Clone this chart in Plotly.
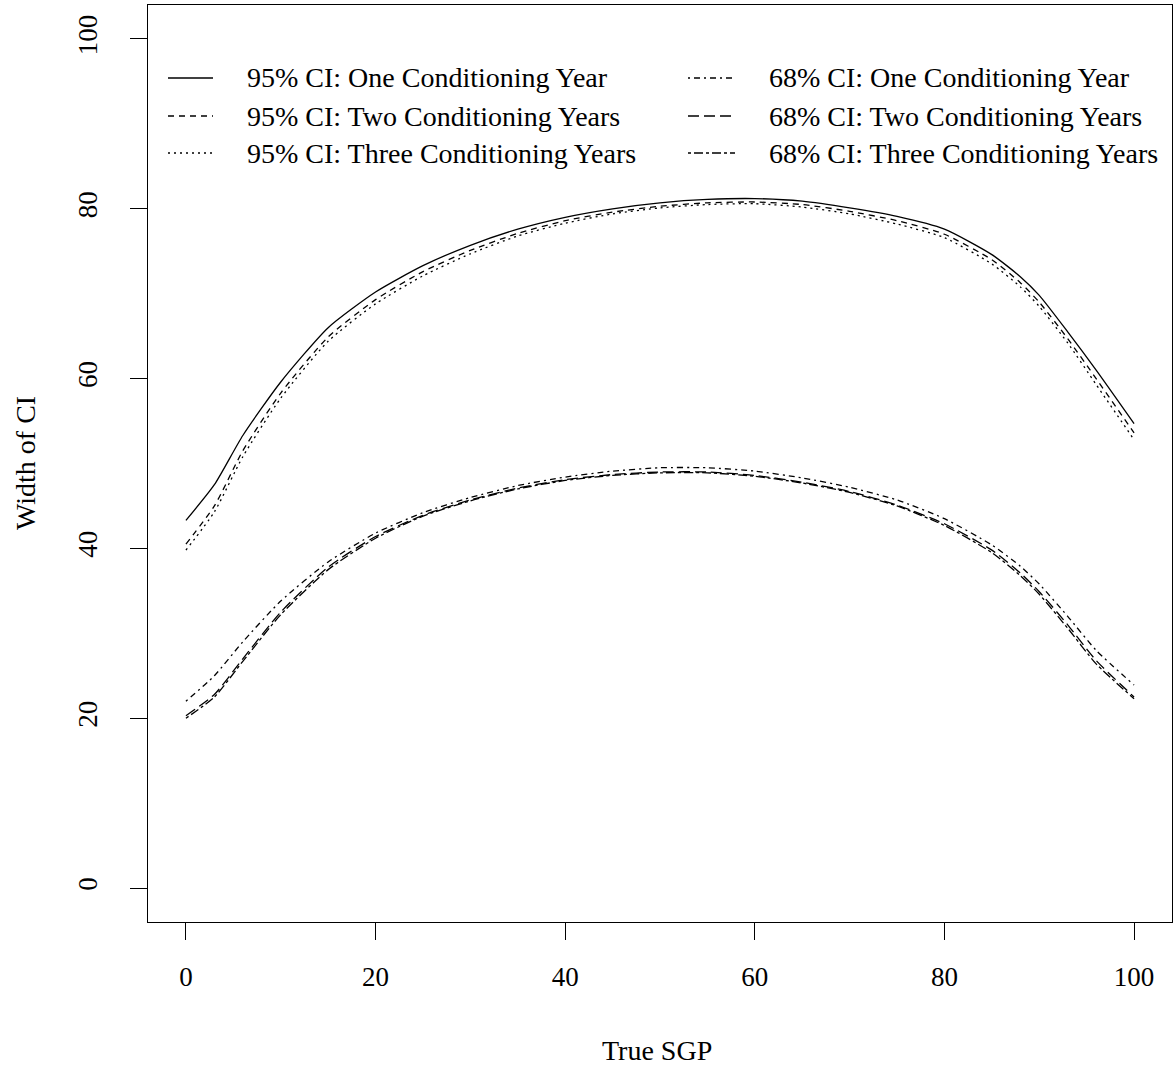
import plotly.graph_objects as go

# ---- data ----
true_sgp = [0, 3, 6, 10, 15, 20, 25, 30, 35, 40, 45, 50, 55, 60, 65, 70, 75, 80, 85, 88, 90, 93, 96, 100]

ci95_one = [43.3, 47.5, 53.3, 59.6, 66.0, 70.2, 73.3, 75.7, 77.6, 79.0, 80.0, 80.7, 81.1, 81.2, 80.9, 80.1, 79.1, 77.6, 74.6, 72.0, 69.8, 65.5, 61.0, 54.7]
ci95_two = [40.5, 45.0, 51.5, 58.3, 64.9, 69.3, 72.6, 75.1, 77.1, 78.6, 79.6, 80.3, 80.7, 80.8, 80.5, 79.7, 78.6, 77.0, 74.0, 71.3, 69.0, 64.7, 60.0, 53.6]
ci95_three = [39.8, 44.3, 50.8, 57.7, 64.4, 68.8, 72.1, 74.7, 76.8, 78.3, 79.4, 80.1, 80.5, 80.6, 80.2, 79.4, 78.2, 76.6, 73.5, 70.8, 68.5, 64.2, 59.3, 52.8]
ci68_one = [22.0, 25.0, 29.0, 33.8, 38.4, 41.8, 44.2, 46.0, 47.4, 48.4, 49.1, 49.5, 49.5, 49.1, 48.3, 47.2, 45.7, 43.5, 40.4, 37.9, 35.8, 32.0, 28.0, 23.9]
ci68_two = [20.3, 22.8, 27.0, 32.5, 37.8, 41.4, 43.9, 45.7, 47.1, 48.1, 48.7, 49.0, 49.0, 48.6, 47.8, 46.7, 45.1, 42.9, 39.8, 37.1, 34.9, 31.0, 26.8, 22.5]
ci68_three = [20.0, 22.5, 26.7, 32.2, 37.5, 41.2, 43.8, 45.6, 47.0, 48.0, 48.6, 48.9, 48.9, 48.5, 47.7, 46.6, 45.0, 42.7, 39.5, 36.8, 34.6, 30.6, 26.4, 22.3]

series_names = [
    "95% CI: One Conditioning Year",
    "95% CI: Two Conditioning Years",
    "95% CI: Three Conditioning Years",
    "68% CI: One Conditioning Year",
    "68% CI: Two Conditioning Years",
    "68% CI: Three Conditioning Years",
]
series_values = [ci95_one, ci95_two, ci95_three, ci68_one, ci68_two, ci68_three]

x_ticks = [0, 20, 40, 60, 80, 100]
y_ticks = [0, 20, 40, 60, 80, 100]

# ---- styles ----
dashes = ["solid", "6px,5px", "2px,4px", "2px,4px,6px,4px", "11px,5px", "3px,3px,9px,3px"]
FONT = "Liberation Serif"
LW = 1.3

W, H = 1173, 1070
L, R, T, B = 148, 1, 5, 148
pw, ph = W - L - R, H - T - B

fig = go.Figure()
for name, vals, d in zip(series_names, series_values, dashes):
    fig.add_trace(go.Scatter(
        x=true_sgp, y=vals, mode="lines", name=name,
        line=dict(color="black", width=LW, dash=d, shape="spline", smoothing=0.6),
        showlegend=False,
    ))

# manual two-column legend (R style)
def px_x(p):
    return (p - L) / pw

def px_y(p):
    return (H - B - p) / ph

rows_y = [78, 116, 153]
cols = [(168, 213, 245), (688, 735, 767)]
shapes = []
annotations = []
for i, (name, d) in enumerate(zip(series_names, dashes)):
    c = cols[i // 3]
    ry = rows_y[i % 3]
    shapes.append(dict(type="line", xref="paper", yref="paper",
                       x0=px_x(c[0]), x1=px_x(c[1]), y0=px_y(ry), y1=px_y(ry),
                       line=dict(color="black", width=LW, dash=d)))
    annotations.append(dict(xref="paper", yref="paper", x=px_x(c[2]), y=px_y(ry),
                            text=name, showarrow=False, xanchor="left", yanchor="middle",
                            font=dict(family=FONT, size=28, color="black")))

# axis titles
annotations.append(dict(xref="paper", yref="paper", x=px_x(657), y=px_y(1050),
                        text="True SGP", showarrow=False, xanchor="center", yanchor="middle",
                        font=dict(family=FONT, size=28, color="black")))
annotations.append(dict(xref="paper", yref="paper", x=px_x(25), y=px_y(463),
                        text="Width of CI", showarrow=False, xanchor="center", yanchor="middle",
                        textangle=-90, font=dict(family=FONT, size=28, color="black")))

fig.update_layout(
    width=W, height=H,
    margin=dict(l=L, r=R, t=T, b=B),
    paper_bgcolor="white", plot_bgcolor="white",
    font=dict(family=FONT, size=27, color="black"),
    shapes=shapes, annotations=annotations,
    showlegend=False,
)
fig.update_xaxes(range=[-4, 104], tickvals=x_ticks, ticktext=[str(v) for v in x_ticks],
                 showgrid=False, zeroline=False, showline=True, linecolor="black", linewidth=LW,
                 mirror=True, ticks="outside", ticklen=17, tickwidth=LW, tickcolor="black",
                 ticklabelstandoff=13, tickfont=dict(family=FONT, size=27, color="black"))
fig.update_yaxes(range=[-4, 104], tickvals=y_ticks, ticktext=[str(v) for v in y_ticks],
                 showgrid=False, zeroline=False, showline=True, linecolor="black", linewidth=LW,
                 mirror=True, ticks="outside", ticklen=17, tickwidth=LW, tickcolor="black",
                 tickangle=-90, ticklabelstandoff=22, tickfont=dict(family=FONT, size=27, color="black"))

fig.write_html("out.html",
               config={"displayModeBar": False},
               post_script="document.body.style.margin='0';document.body.style.padding='0';")
